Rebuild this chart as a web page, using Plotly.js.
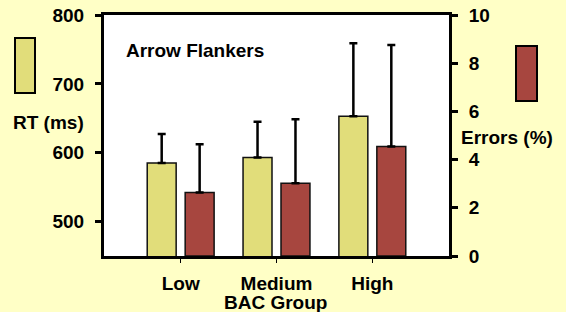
<!DOCTYPE html>
<html>
<head>
<meta charset="utf-8">
<script src="https://cdn.plot.ly/plotly-3.0.1.min.js"></script>
<style>
html,body{margin:0;padding:0;background:#FFFFC6;}
#chart{width:566px;height:312px;}
</style>
</head>
<body>
<div id="chart"></div>
<script>
// Data
const categories = ['Low', 'Medium', 'High'];
const rtValues = [585, 593, 653];
const rtErrors = [42, 52, 106];
const errValues = [2.64, 3.02, 4.54];
const errErrors = [2.0, 2.65, 4.22];
const noMinus = [0, 0, 0];
const rtTicks = [500, 600, 700, 800];
const errTicks = [0, 2, 4, 6, 8, 10];

const FONT = {family: 'Liberation Sans, Arial, sans-serif', size: 19, color: '#000', weight: 'bold'};
const yellow = '#E1DD7A';
const red = '#A7463F';

// plot area in px (for paper-coordinate helpers)
const L = 104, R = 449, T = 15, B = 256;
const px = x => (x - L) / (R - L);
const py = y => (B - y) / (B - T);

const traces = [
  {
    type: 'bar', x: categories, y: rtValues, yaxis: 'y',
    width: 0.302, offset: -0.349,
    marker: {color: yellow, line: {color: '#111', width: 1.5}},
    error_y: {type: 'data', symmetric: false, array: rtErrors, arrayminus: noMinus,
              color: '#000', thickness: 2.5, width: 4},
    showlegend: false, hoverinfo: 'y'
  },
  {
    type: 'bar', x: categories, y: errValues, yaxis: 'y2',
    width: 0.302, offset: 0.047,
    marker: {color: red, line: {color: '#111', width: 1.5}},
    error_y: {type: 'data', symmetric: false, array: errErrors, arrayminus: noMinus,
              color: '#000', thickness: 2.5, width: 4},
    showlegend: false, hoverinfo: 'y'
  }
];

const layout = {
  width: 566, height: 312,
  margin: {l: L, r: 566 - R, t: T, b: 312 - B, pad: 0},
  paper_bgcolor: '#FFFFC6',
  plot_bgcolor: '#FFFFFF',
  font: FONT,
  barmode: 'overlay',
  showlegend: false,
  xaxis: {
    type: 'category', range: [-0.8, 2.8],
    showline: true, linecolor: '#000', linewidth: 3, mirror: true,
    ticks: 'outside', ticklen: 4, tickwidth: 1.5, tickcolor: '#000',
    tickfont: FONT, showgrid: false, zeroline: false,
    ticklabelstandoff: 4
  },
  yaxis: {
    range: [450, 800], tickvals: rtTicks,
    showline: true, linecolor: '#000', linewidth: 3,
    ticks: 'outside', ticklen: 6, tickwidth: 3, tickcolor: '#000',
    tickfont: FONT, showgrid: false, zeroline: false,
    ticklabelstandoff: 7
  },
  yaxis2: {
    range: [0, 10], tickvals: errTicks, overlaying: 'y', side: 'right',
    showline: true, linecolor: '#000', linewidth: 3,
    ticks: 'outside', ticklen: 6, tickwidth: 3, tickcolor: '#000',
    tickfont: FONT, showgrid: false, zeroline: false,
    ticklabelstandoff: 7
  },
  shapes: [
    {type: 'rect', xref: 'paper', yref: 'paper', x0: px(15), x1: px(35), y0: py(93), y1: py(38),
     fillcolor: yellow, line: {color: '#000', width: 2}},
    {type: 'rect', xref: 'paper', yref: 'paper', x0: px(516), x1: px(537), y0: py(101), y1: py(46),
     fillcolor: red, line: {color: '#000', width: 2}}
  ],
  annotations: [
    {text: 'Arrow Flankers', xref: 'paper', yref: 'paper', x: px(124), y: py(50),
     xanchor: 'left', yanchor: 'middle', showarrow: false, font: FONT},
    {text: 'RT (ms)', xref: 'paper', yref: 'paper', x: px(48), y: py(122),
     xanchor: 'center', yanchor: 'middle', showarrow: false, font: FONT},
    {text: 'Errors (%)', xref: 'paper', yref: 'paper', x: px(507.5), y: py(137),
     xanchor: 'center', yanchor: 'middle', showarrow: false, font: FONT},
    {text: 'BAC Group', xref: 'paper', yref: 'paper', x: px(275), y: py(302),
     xanchor: 'center', yanchor: 'middle', showarrow: false, font: FONT}
  ]
};

Plotly.newPlot('chart', traces, layout, {displayModeBar: false, staticPlot: true});
</script>
</body>
</html>
